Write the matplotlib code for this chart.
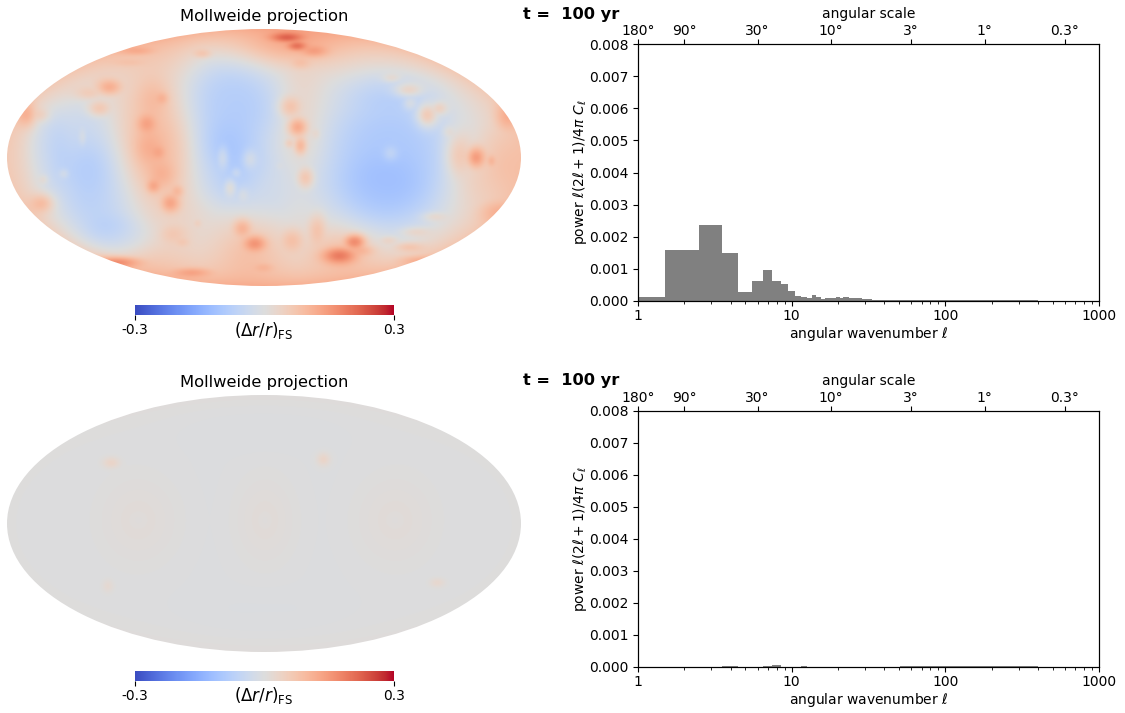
import numpy as np
import matplotlib
matplotlib.use('Agg')
import matplotlib.pyplot as plt
from matplotlib.patches import Ellipse

W, H = 1125, 713
vmin, vmax = -0.3, 0.3

# power spectra. edges in ell, one value per bin
edges_top = [1, 1.5, 2.5, 3.5, 4.5, 5.5, 6.5, 7.5, 8.5, 9.5, 10.5, 11.5, 12.5, 13.5, 14.5, 15.5,
             16.5, 17.5, 18.5, 19.5, 20.5, 21.5, 22.5, 23.5, 24.5, 26.5, 28.5, 30.5, 33.5, 36.5,
             40.5, 50.5, 100.5, 200.5, 400.5]
power_top = [0.00013, 0.0016, 0.00237, 0.0015, 0.00028, 0.00062, 0.00095, 0.00062, 0.00052, 0.0003,
             0.00017, 0.00012, 0.00009, 0.00018, 0.00012, 0.00007, 0.00009, 0.00009, 0.00009, 0.00012,
             0.00009, 0.00013, 0.00011, 0.0001, 0.00009, 0.00008, 0.00007, 0.00006, 0.00004, 0.00004,
             0.00003, 0.00002, 0.00002, 0.00002]
edges_bot = [1, 3.5, 4.5, 5.5, 6.5, 7.5, 8.5, 9.5, 11.5, 12.5, 13.5, 50.5, 400.5]
power_bot = [0.00001, 0.00002, 0.00001, 0.00001, 0.00002, 0.00007, 0.00001, 0.00001, 0.00004,
             0.00001, 0.00001, 0.00002]

yticks = [0.000, 0.001, 0.002, 0.003, 0.004, 0.005, 0.006, 0.007, 0.008]
xticks = [1, 10, 100, 1000]
xticklabels = ['1', '10', '100', '1000']
scale_ticks = [1, 2, 6, 18, 60, 180, 600]
scale_labels = ['180°', '90°', '30°', '10°', '3°', '1°', '0.3°']

# map features: x px, y px, width, height, amplitude
# (px measured on a 772,470 centred crop, 380 px = 1 map unit)
top_lobes = [(670, 320, 130, 130, -0.095), (780, 550, 130, 90, -0.04), (640, 500, 90, 90, -0.05),
             (1145, 470, 165, 190, -0.105), (1120, 570, 120, 80, -0.025), (310, 600, 135, 125, -0.09),
             (225, 410, 100, 105, -0.055), (350, 700, 90, 45, -0.03), (130, 450, 50, 110, -0.03),
             (1170, 270, 150, 45, -0.02), (380, 240, 140, 40, -0.005), (1400, 340, 70, 50, -0.01)]
top_band = [(450, 460, 80, 165, 0.085), (445, 300, 45, 55, 0.07), (425, 370, 26, 26, 0.115),
            (430, 440, 40, 50, 0.085), (460, 455, 20, 20, 0.095), (470, 520, 40, 40, 0.085),
            (445, 555, 20, 20, 0.105), (495, 605, 25, 25, 0.115), (515, 570, 18, 18, 0.085),
            (470, 295, 18, 18, 0.085)]
top_north = [(850, 140, 110, 40, 0.06), (840, 115, 40, 12, 0.14), (870, 140, 25, 12, 0.14),
             (920, 155, 35, 15, 0.09), (880, 190, 25, 15, 0.05)]
top_column = [(880, 400, 45, 150, 0.025), (850, 320, 25, 25, 0.07), (872, 380, 22, 22, 0.11),
              (880, 435, 15, 22, 0.09), (848, 428, 12, 12, 0.05), (925, 400, 12, 15, 0.03),
              (895, 530, 20, 25, 0.07), (650, 470, 12, 25, 0.03), (730, 475, 15, 20, 0.03),
              (672, 560, 12, 18, 0.04), (690, 515, 10, 10, 0.02), (710, 580, 12, 15, 0.02),
              (820, 495, 10, 10, 0.015)]
top_south = [(730, 740, 70, 60, 0.05), (708, 680, 22, 22, 0.09), (745, 725, 28, 20, 0.13),
             (770, 795, 25, 12, 0.05), (855, 715, 25, 25, 0.06), (930, 685, 20, 35, 0.06),
             (1000, 740, 70, 45, 0.05), (995, 760, 40, 20, 0.15), (1040, 720, 25, 18, 0.14),
             (1060, 745, 30, 15, 0.07), (500, 695, 35, 25, 0.05), (530, 720, 18, 12, 0.04),
             (575, 665, 10, 10, 0.03), (455, 640, 15, 10, 0.02), (340, 780, 50, 12, 0.09),
             (560, 810, 40, 10, 0.06), (1230, 775, 40, 10, 0.04)]
top_left = [(315, 262, 28, 18, 0.09), (255, 280, 30, 15, 0.04), (285, 325, 25, 18, 0.06),
            (400, 155, 40, 10, 0.05), (380, 190, 40, 10, 0.03), (590, 163, 20, 10, 0.04),
            (115, 605, 25, 20, 0.06), (70, 345, 20, 25, 0.06), (110, 345, 20, 15, 0.03),
            (180, 518, 10, 10, 0.02), (235, 410, 8, 18, 0.02), (120, 535, 10, 10, 0.02)]
top_right = [(1400, 470, 22, 25, 0.12), (1350, 465, 30, 50, 0.06), (1445, 480, 12, 15, 0.07),
             (1470, 490, 60, 70, 0.04), (1490, 350, 25, 30, 0.06), (1255, 345, 22, 25, 0.07),
             (1290, 325, 18, 15, 0.05), (1205, 310, 15, 15, 0.03), (1200, 270, 30, 15, 0.05),
             (1150, 235, 20, 10, 0.03), (1320, 395, 15, 15, 0.03), (1460, 630, 40, 25, 0.05),
             (1275, 645, 25, 10, 0.03), (1220, 690, 30, 10, 0.03), (1200, 735, 30, 10, 0.04),
             (1140, 715, 20, 10, 0.03), (1400, 530, 60, 60, 0.03), (1147, 458, 15, 15, 0.02)]
bot_spots = [(320, 290, 18, 12, 0.035), (948, 280, 14, 14, 0.035), (1285, 645, 16, 10, 0.025),
             (310, 655, 12, 14, 0.02)]
bot_rings = [(400, 460, 85, 95, 0.012), (775, 460, 65, 95, 0.012), (1160, 460, 85, 95, 0.012),
             (400, 460, 20, 20, -0.005), (775, 460, 15, 20, -0.005), (1160, 460, 20, 20, -0.005),
             (770, 180, 200, 60, -0.003), (770, 740, 200, 60, -0.003)]


def mapField(blobs, base, edgeAmp, poleAmp):
    x, y = np.meshgrid(np.linspace(-2, 2, 1000), np.linspace(-1, 1, 500))
    r = np.hypot(x / 2, y)
    lobes = np.zeros_like(x)
    warm = np.zeros_like(x)
    for bx, by, bw, bh, amp in blobs:
        cx, cy = (bx - 772) / 380, (470 - by) / 380
        q = ((x - cx) / (bw / 380))**2 + ((y - cy) / (bh / 380))**2
        if amp < 0:
            # the cool lobes are flat topped
            lobes = lobes + amp * np.exp(-0.5 * q**1.5)
        else:
            # warm spots sit next to each other without adding up
            warm = warm + (amp * np.exp(-0.5 * q))**3
    warm = warm**(1 / 3)
    return base + edgeAmp * r**8 + poleAmp * np.abs(y)**4 + lobes * (1 - np.minimum(warm / 0.12, 1)) + warm


def axPx(fig, left, top, right, bottom, **kwargs):
    return fig.add_axes([left / W, 1 - bottom / H, (right - left) / W, (bottom - top) / H], **kwargs)


def drawMap(fig, field, top, cbarTop):
    ax = axPx(fig, 7, top, 521, top + 257)
    im = ax.imshow(field, origin='lower', extent=[-2, 2, -1, 1], cmap='coolwarm', vmin=vmin, vmax=vmax,
                   interpolation='bilinear', aspect='auto')
    oval = Ellipse((0, 0), 4, 2, transform=ax.transData, facecolor='none', edgecolor='none')
    ax.add_patch(oval)
    im.set_clip_path(oval)
    ax.axis('off')
    fig.text(264 / W, 1 - (top - 12.5) / H, 'Mollweide projection', fontsize=11.8, ha='center', va='center')

    cax = axPx(fig, 135, cbarTop, 394, cbarTop + 10)
    cbar = fig.colorbar(im, cax=cax, orientation='horizontal')
    cbar.set_ticks([vmin, vmax])
    cbar.set_ticklabels(['-0.3', '0.3'])
    cbar.ax.tick_params(labelsize=10, length=3.5, width=0.8, pad=2)
    cbar.outline.set_visible(False)
    fig.text(264 / W, 1 - (cbarTop + 25) / H, r'$(\Delta r/r)_{\mathrm{FS}}$', fontsize=12, ha='center', va='center')


def drawSpectrum(fig, edges, power, top, bottom):
    ax = axPx(fig, 638, top, 1099, bottom)
    ax.stairs(power, edges, fill=True, color='gray')
    ax.set_xscale('log')
    ax.set_xlim(1, 1000)
    ax.set_ylim(0, 0.008)
    ax.set_yticks(yticks)
    ax.set_yticklabels(['%.3f' % v for v in yticks])
    ax.set_xticks(xticks)
    ax.set_xticklabels(xticklabels)
    ax.tick_params(labelsize=10)
    ax.tick_params(axis='x', pad=2)
    ax.set_xlabel(r'angular wavenumber $\ell$', fontsize=10, labelpad=2)
    ax.set_ylabel(r'power $\ell(2\ell+1)/4\pi\ C_\ell$', fontsize=10, labelpad=0)

    axTop = ax.twiny()
    axTop.set_xscale('log')
    axTop.set_xlim(1, 1000)
    axTop.set_xticks(scale_ticks)
    axTop.set_xticklabels(scale_labels)
    axTop.minorticks_off()
    axTop.tick_params(labelsize=10, pad=1)
    fig.text(869 / W, 1 - (top - 30) / H, 'angular scale', fontsize=10, ha='center', va='center')
    fig.text(523 / W, 1 - (top - 30) / H, 't =  100 yr', fontsize=11.7, weight='bold', ha='left', va='center')


top_blobs = top_lobes + top_band + top_north + top_column + top_south + top_left + top_right
bot_blobs = bot_spots + bot_rings

fig = plt.figure(figsize=(W / 100, H / 100), dpi=100)

drawMap(fig, mapField(top_blobs, 0.012, 0.05, 0.05), 29, 305)
drawSpectrum(fig, edges_top, power_top, 44, 301)

drawMap(fig, mapField(bot_blobs, -0.003, 0.004, 0.004), 395, 671)
drawSpectrum(fig, edges_bot, power_bot, 411, 667)

fig.savefig('out.png', dpi=100)
